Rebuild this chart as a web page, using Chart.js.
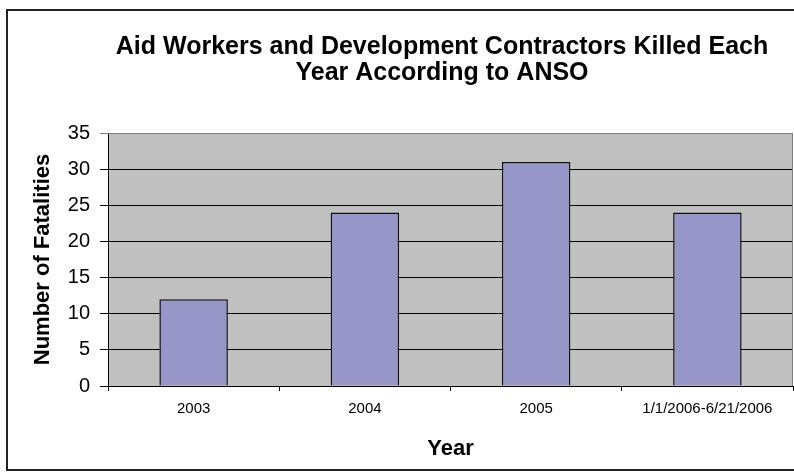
<!DOCTYPE html>
<html>
<head>
<meta charset="utf-8">
<script src="https://cdn.jsdelivr.net/npm/chart.js@4/dist/chart.umd.min.js"></script>
<style>
  html, body { margin: 0; padding: 0; background: #fff; overflow: hidden; width: 794px; height: 475px; }
  #frame { position: absolute; left: 6px; top: 9px; width: 868px; height: 458px; border: 2px solid #222; background: #fff; }
  #frame canvas { display: block; }
</style>
</head>
<body>
<div id="frame"><canvas id="fatalitiesChart" width="868" height="458"></canvas></div>
<script>
document.addEventListener('DOMContentLoaded', () => {
  Chart.defaults.font.family = "'Liberation Sans', Arial, sans-serif";
  Chart.defaults.color = '#000';

  const years = ['2003', '2004', '2005', '1/1/2006-6/21/2006'];
  const fatalities = [12, 24, 31, 24];
  const yMax = 35;
  const yStep = 5;

  // gray plot background and the light top/right edges
  const plotArea = {
    id: 'plotArea',
    afterLayout(chart) {
      // centre the title on the whole (cropped) frame, not on the padded box
      const t = chart.titleBlock;
      if (t) { t.left = 0; t.right = chart.width; t.width = chart.width; }
    },
    beforeDraw(chart) {
      const { ctx, chartArea: a } = chart;
      ctx.save();
      ctx.fillStyle = '#C0C0C0';
      ctx.fillRect(a.left, a.top, a.right - a.left, a.bottom - a.top);
      ctx.restore();
    },
    afterDatasetsDraw(chart) {
      const { ctx, chartArea: a } = chart;
      ctx.save();
      ctx.strokeStyle = '#808080';
      ctx.lineWidth = 1;
      ctx.beginPath();
      ctx.moveTo(a.left, a.top + 0.5);
      ctx.lineTo(a.right - 0.5, a.top + 0.5);
      ctx.lineTo(a.right - 0.5, a.bottom);
      ctx.stroke();
      ctx.restore();
    }
  };

  const ctx = document.getElementById('fatalitiesChart');
  new Chart(ctx, {
    type: 'bar',
    data: {
      labels: years,
      datasets: [{
        label: 'Fatalities',
        data: fatalities,
        backgroundColor: '#9696C8',
        borderColor: '#111',
        borderWidth: 1.5,
        barPercentage: 0.4,
        categoryPercentage: 1
      }]
    },
    options: {
      responsive: false,
      animation: false,
      layout: { padding: { left: 0, right: 83, top: 0, bottom: 0 } },
      plugins: {
        legend: { display: false },
        tooltip: { enabled: false },
        title: {
          display: true,
          text: ['Aid Workers and Development Contractors Killed Each', 'Year According to ANSO'],
          font: { size: 25, weight: 'bold', lineHeight: 1.04 },
          color: '#000',
          padding: { top: 23, bottom: 47 }
        }
      },
      scales: {
        x: {
          grid: { drawOnChartArea: false, offset: true, tickLength: 5, color: '#000' },
          border: { color: '#000', width: 1 },
          ticks: { font: { size: 15 }, padding: 9, maxRotation: 0 },
          title: { display: true, text: 'Year', font: { size: 22, weight: 'bold' }, padding: { top: 0, bottom: 7 } },
          afterFit: (scale) => { scale.height = 83; }
        },
        y: {
          min: 0,
          max: yMax,
          ticks: { stepSize: yStep, font: { size: 20 }, padding: 10 },
          grid: {
            tickLength: 8,
            color: (c) => (c.tick && c.tick.value === yMax ? '#808080' : '#000')
          },
          border: { color: '#000', width: 1 },
          title: { display: true, text: 'Number of Fatalities', font: { size: 22, weight: 'bold' }, padding: { top: 22, bottom: 0 } },
          afterFit: (scale) => { scale.width = 100; }
        }
      }
    },
    plugins: [plotArea]
  });
});
</script>
</body>
</html>
